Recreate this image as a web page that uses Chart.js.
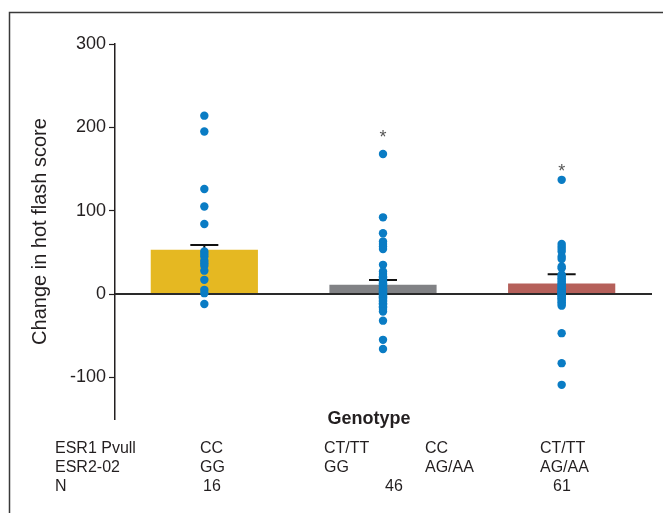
<!DOCTYPE html>
<html>
<head>
<meta charset="utf-8">
<script src="https://cdn.jsdelivr.net/npm/chart.js@4"></script>
<style>
  html, body { margin: 0; padding: 0; background: #fff; }
  #wrap { position: relative; width: 663px; height: 513px; }
</style>
</head>
<body>
<div id="wrap"><canvas id="myChart"></canvas></div>
<script>
const groups = ["CC/GG", "CT/TT GG - CC AG/AA", "CT/TT AG/AA"];
const barMeans = [53, 11, 12.5];
const errTop = [58.8, 16.8, 23.6];
const barColors = ["#E5B822", "#818285", "#B5605A"];

// individual patients
const dotsCC = [214, 195, 126, 105, 84, 51, 48, 45, 40, 37, 34, 28, 17, 5, 1, -12];
const dotsMid = [168, 92, 73, 63, 60, 57, 54, 35, 27, 24, 21, 20, 18, 16, 15, 13, 12, 11, 10, 9, 7, 6, 5, 4, 3, 2, 1, 0,
  -1, -2, -3, -4, -5, -7, -8, -9, -11, -12, -13, -15, -16, -18, -21, -32, -55, -66];
const dotsLast = [137, 60, 57, 54, 51, 45, 42, 33, 31, 23, 21, 19, 17, 15, 13, 11, 10, 8, 7, 5, 4, 3, 2, 1, 0,
  -1, -2, -3, -5, -6, -8, -10, -12, -14, -47, -83, -109];

const starValues = [null, 193, 153];
const yTicks = [-100, 0, 100, 200, 300];

const esr1Row = ["CC", "CT/TT", "CC", "CT/TT"];
const esr2Row = ["GG", "GG", "AG/AA", "AG/AA"];
const nRow = ["16", "46", "61"];

const textColor = "#231F20";
const font = "'Liberation Sans', Arial, sans-serif";

const dotData = [];
[dotsCC, dotsMid, dotsLast].forEach((arr, i) => {
  arr.forEach((v) => dotData.push({ x: groups[i], y: v }));
});

const extras = {
  id: "extras",
  beforeDraw: (chart) => {
    const ctx = chart.ctx;
    ctx.save();
    ctx.strokeStyle = "#3a3a3a";
    ctx.lineWidth = 1.5;
    ctx.beginPath();
    ctx.moveTo(9.5, 513);
    ctx.lineTo(9.5, 12.5);
    ctx.lineTo(663, 12.5);
    ctx.stroke();
    ctx.restore();
  },
  afterDatasetDraw: (chart, args) => {
    if (args.index !== 0) return;
    const ctx = chart.ctx;
    const x = chart.scales.x;
    const y = chart.scales.y;
    const area = chart.chartArea;
    ctx.save();
    // zero line
    ctx.strokeStyle = "#2a2a2a";
    ctx.lineWidth = 2.2;
    ctx.beginPath();
    ctx.moveTo(area.left, y.getPixelForValue(0));
    ctx.lineTo(area.right + 1, y.getPixelForValue(0));
    ctx.stroke();
    // error caps
    ctx.strokeStyle = "#111";
    ctx.lineWidth = 2;
    groups.forEach((g, i) => {
      const cx = x.getPixelForValue(i);
      const top = y.getPixelForValue(errTop[i]);
      ctx.beginPath();
      ctx.moveTo(cx, y.getPixelForValue(barMeans[i]));
      ctx.lineTo(cx, top);
      ctx.moveTo(cx - 14, top);
      ctx.lineTo(cx + 14, top);
      ctx.stroke();
    });
    ctx.restore();
  },
  afterDraw: (chart) => {
    const ctx = chart.ctx;
    const x = chart.scales.x;
    const y = chart.scales.y;
    ctx.save();
    // significance stars
    ctx.fillStyle = "#555";
    ctx.font = "18px " + font;
    ctx.textAlign = "center";
    ctx.textBaseline = "alphabetic";
    starValues.forEach((v, i) => {
      if (v === null) return;
      ctx.fillText("*", x.getPixelForValue(i), y.getPixelForValue(v) + 10);
    });
    // x title
    ctx.fillStyle = textColor;
    ctx.font = "bold 18px " + font;
    ctx.textBaseline = "middle";
    ctx.fillText("Genotype", 369, 419);
    // genotype table
    ctx.font = "16px " + font;
    ctx.textAlign = "left";
    ctx.fillText("ESR1 Pvull", 55, 449);
    ctx.fillText("ESR2-02", 55, 468);
    ctx.fillText("N", 55, 487);
    const colX = [200, 324, 425, 540];
    esr1Row.forEach((t, i) => ctx.fillText(t, colX[i], 449));
    esr2Row.forEach((t, i) => ctx.fillText(t, colX[i], 468));
    const nX = [203, 385, 553];
    nRow.forEach((t, i) => ctx.fillText(t, nX[i], 487));
    ctx.restore();
  },
};

const config = {
  data: {
    labels: groups,
    datasets: [
      {
        type: "bar",
        data: barMeans,
        backgroundColor: barColors,
        borderWidth: 0,
        barPercentage: 0.6,
        categoryPercentage: 1,
        order: 2,
      },
      {
        type: "line",
        data: dotData,
        showLine: false,
        pointRadius: 4.2,
        pointBorderWidth: 0,
        pointBackgroundColor: "#0A7CC4",
        pointBorderColor: "#0A7CC4",
        order: 1,
      },
    ],
  },
  options: {
    responsive: true,
    maintainAspectRatio: false,
    animation: false,
    layout: {
      padding: { left: 0, right: 12, top: 44, bottom: 94 },
    },
    scales: {
      x: {
        type: "category",
        display: false,
        offset: true,
      },
      y: {
        min: -150,
        max: 300,
        afterBuildTicks: (scale) => {
          scale.ticks = yTicks.map((v) => ({ value: v }));
        },
        afterFit: (scale) => {
          scale.width = 115;
        },
        border: { display: true, color: textColor, width: 1.5 },
        grid: {
          display: true,
          drawOnChartArea: false,
          drawTicks: true,
          tickLength: 6,
          tickColor: textColor,
          tickWidth: 1.2,
        },
        ticks: {
          color: textColor,
          padding: 3,
          font: { family: font, size: 18 },
        },
        title: {
          display: true,
          text: "Change in hot flash score",
          color: textColor,
          padding: { top: 28, bottom: 0 },
          font: { family: font, size: 20 },
        },
      },
    },
    plugins: {
      legend: { display: false },
      tooltip: { enabled: false },
    },
  },
  plugins: [extras],
};

const myChart = new Chart(document.getElementById("myChart"), config);
</script>
</body>
</html>
